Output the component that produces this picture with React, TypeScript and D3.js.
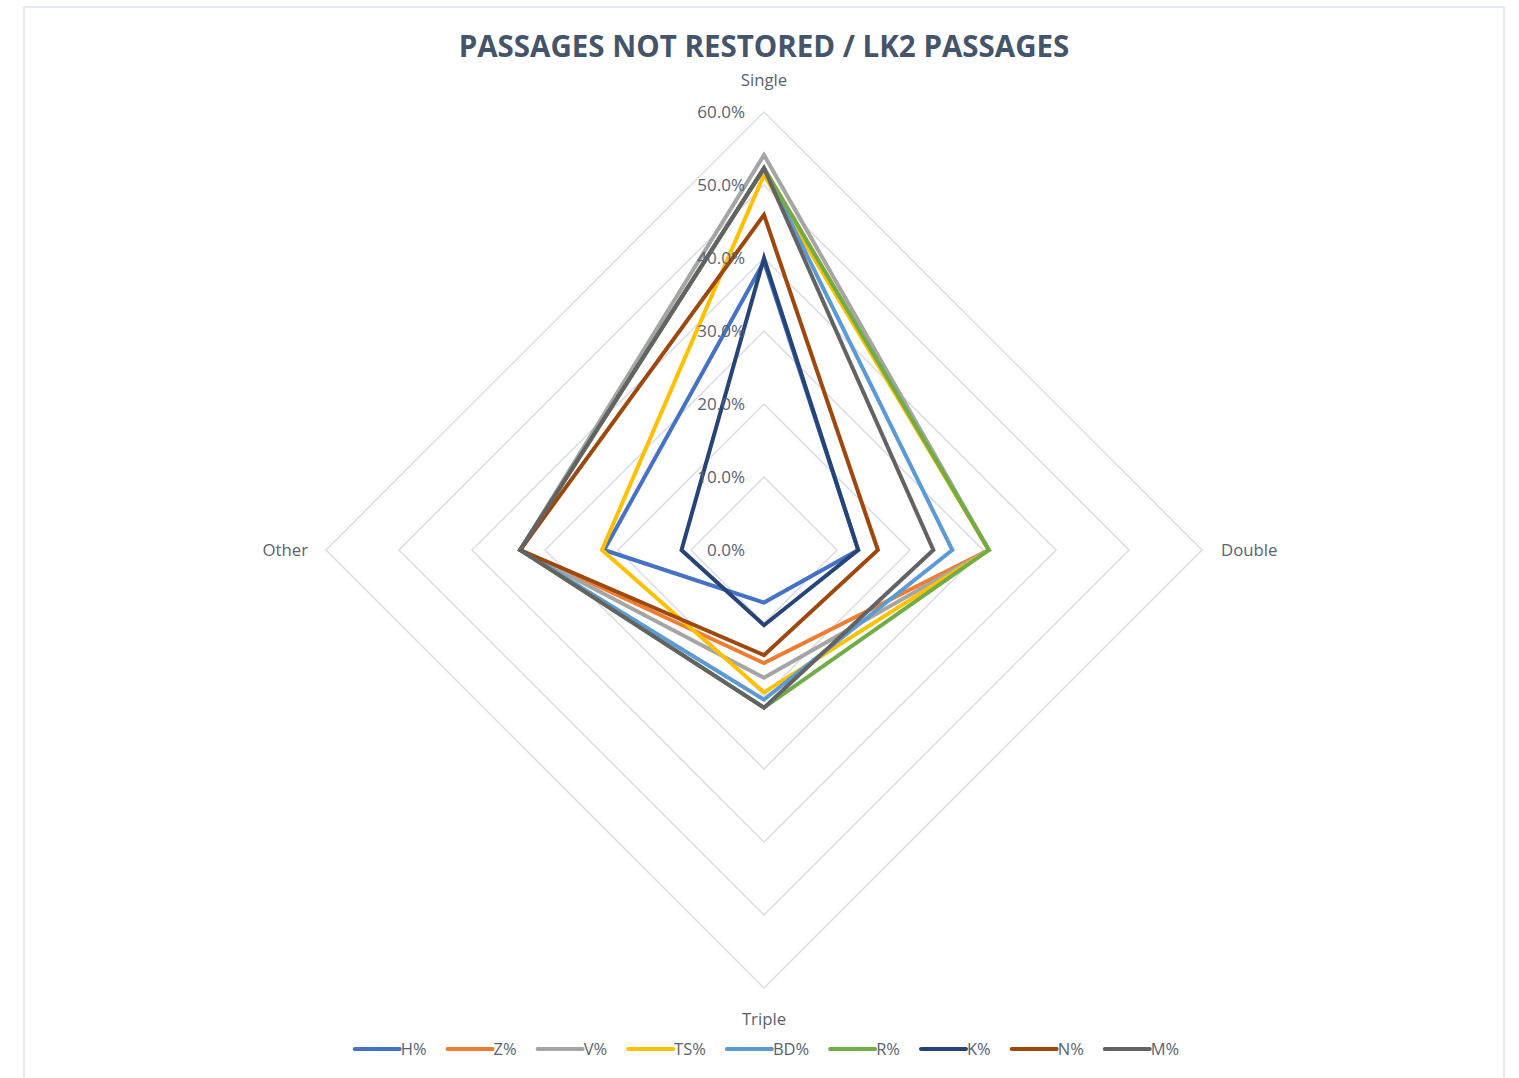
import React from 'react'
import * as d3 from 'd3'

// categories (axes of the radar, clockwise from top)
const axes = ['Single', 'Double', 'Triple', 'Other']

// series names and their values (percent) per axis
const seriesNames = ['H%', 'Z%', 'V%', 'TS%', 'BD%', 'R%', 'K%', 'N%', 'M%']
const hValues = [39.5, 12.9, 7.2, 21.9]
const zValues = [52.3, 30.8, 15.5, 33.4]
const vValues = [54.1, 30.8, 17.5, 33.4]
const tsValues = [51.4, 30.8, 19.5, 22.2]
const bdValues = [52.3, 25.8, 20.5, 33.4]
const rValues = [52.3, 30.8, 21.6, 33.4]
const kValues = [40.0, 12.9, 10.3, 11.3]
const nValues = [45.9, 15.6, 14.4, 33.4]
const mValues = [52.3, 23.2, 21.6, 33.4]

const seriesColors = ['#4472C4', '#ED7D31', '#A5A5A5', '#FFC000', '#5B9BD5', '#70AD47', '#264478', '#9E480E', '#636363']

// radial ticks
const tickValues = [0, 10, 20, 30, 40, 50, 60]

const title = 'PASSAGES NOT RESTORED / LK2 PASSAGES'

const FONT = '"Open Sans", "Liberation Sans", sans-serif'
const TEXT_COLOR = '#586273'

const measure = (text: string, font: string) => {
    const ctx = document.createElement('canvas').getContext('2d')
    ctx.font = font
    return ctx.measureText(text).width
}

export default function App () {
    const width = 1519
    const height = 1078
    const cx = 764
    const cy = 550
    const radius = 438

    const r = d3.scaleLinear().domain([0, 60]).range([0, radius])
    const angle = d3.scalePoint<string>().domain(axes).range([0, 2 * Math.PI * (axes.length - 1) / axes.length])

    const pt = (axis: string, v: number): [number, number] => {
        const a = angle(axis)
        return [Math.sin(a) * r(v), -Math.cos(a) * r(v)]
    }

    const radarLine = d3.line<[number, number]>().curve(d3.curveLinearClosed)

    const allValues = [hValues, zValues, vValues, tsValues, bdValues, rValues, kValues, nValues, mValues]

    // legend layout
    const legendSize = 16.5
    const legendFont = `${legendSize}px ${FONT}`
    const lineLen = 45
    const gap = 21
    const itemWidths = seriesNames.map((n) => lineLen + 1 + measure(n, legendFont))
    const totalLegend = d3.sum(itemWidths) + gap * (seriesNames.length - 1)
    let lx = cx - totalLegend / 2 + 3
    const legendPos = itemWidths.map((w) => {
        const x = lx
        lx += w + gap
        return x
    })

    return (
        <svg width={width} height={height} style={{ position: 'absolute', left: 0, top: 0, background: '#fff' }}>
            <rect x={24} y={7} width={1480} height={1090} fill='#fff' stroke='#DEE2EA' strokeWidth={1.5} />
            <text
                x={cx}
                y={57}
                textAnchor='middle'
                fontFamily={FONT}
                fontWeight={700}
                fontSize={29.5}
                fill='#44546A'
            >
                {title}
            </text>
            <g transform={`translate(${cx}, ${cy})`}>
                {tickValues.slice(1).map((t) => (
                    <path
                        key={t}
                        d={radarLine(axes.map((a) => pt(a, t)))}
                        fill='none'
                        stroke='#D9DDE6'
                        strokeWidth={1.5}
                    />
                ))}
                {allValues.map((vals, i) => (
                    <path
                        key={seriesNames[i]}
                        d={radarLine(axes.map((a, j) => pt(a, vals[j])))}
                        fill='none'
                        stroke={seriesColors[i]}
                        strokeWidth={4}
                        strokeLinejoin='miter'
                    />
                ))}
                {tickValues.map((t) => (
                    <text
                        key={t}
                        x={-19}
                        y={-r(t)}
                        dy='0.35em'
                        textAnchor='end'
                        fontFamily={FONT}
                        fontSize={17}
                        fill={TEXT_COLOR}
                    >
                        {d3.format('.1f')(t) + '%'}
                    </text>
                ))}
                <text x={0} y={-radius - 32} dy='0.35em' textAnchor='middle' fontFamily={FONT} fontSize={16.8} fill={TEXT_COLOR}>{axes[0]}</text>
                <text x={radius + 19} y={0} dy='0.35em' textAnchor='start' fontFamily={FONT} fontSize={16.8} fill={TEXT_COLOR}>{axes[1]}</text>
                <text x={0} y={radius + 31} dy='0.35em' textAnchor='middle' fontFamily={FONT} fontSize={16.8} fill={TEXT_COLOR}>{axes[2]}</text>
                <text x={-radius - 18} y={0} dy='0.35em' textAnchor='end' fontFamily={FONT} fontSize={16.8} fill={TEXT_COLOR}>{axes[3]}</text>
            </g>
            <g className='legend' transform='translate(0, 1049)'>
                {seriesNames.map((n, i) => (
                    <g key={n} transform={`translate(${legendPos[i]}, 0)`}>
                        <line x1={0} x2={lineLen} y1={0} y2={0} stroke={seriesColors[i]} strokeWidth={4} strokeLinecap='round' />
                        <text x={lineLen + 1} y={0} dy='0.35em' fontFamily={FONT} fontSize={legendSize} fill={TEXT_COLOR}>{n}</text>
                    </g>
                ))}
            </g>
        </svg>
    )
}
